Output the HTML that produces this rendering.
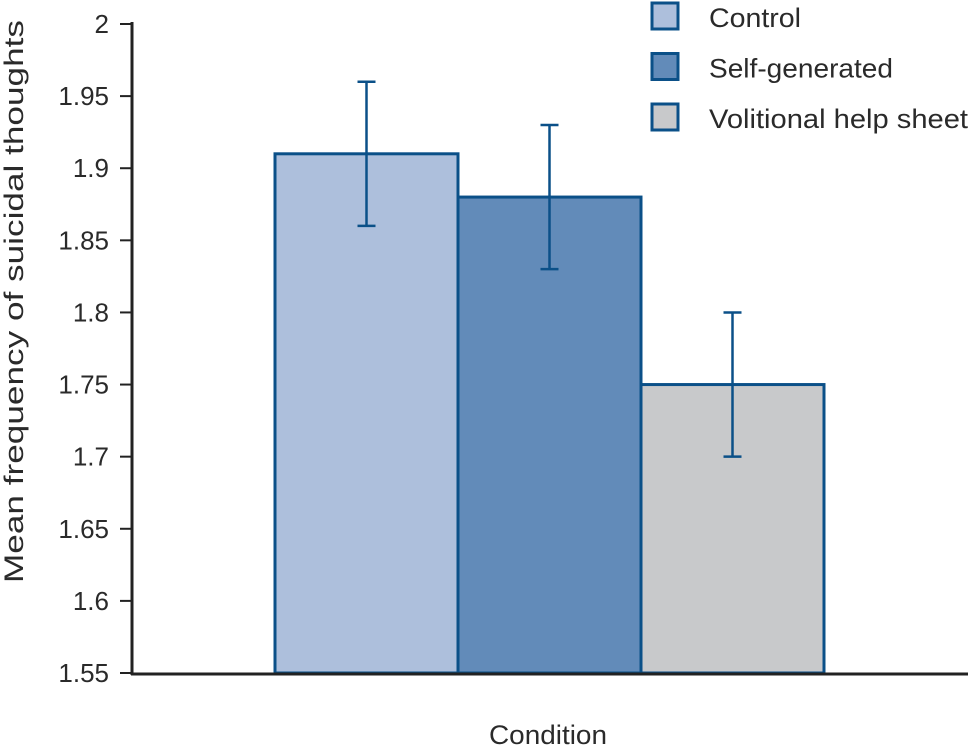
<!DOCTYPE html>
<html><head><meta charset="utf-8"><style>
body{margin:0;background:#fff;width:970px;height:745px;overflow:hidden}
svg text{font-family:"Liberation Sans",sans-serif;fill:#2a2a2a}
</style></head><body>
<svg id="chart" width="970" height="745" viewBox="0 0 970 745"></svg>
<script>
const categories = ["Control", "Self-generated", "Volitional help sheet"];
const means = [1.91, 1.88, 1.75];
const errLow = [1.86, 1.83, 1.70];
const errHigh = [1.96, 1.93, 1.80];
const tickValues = [1.55, 1.6, 1.65, 1.7, 1.75, 1.8, 1.85, 1.9, 1.95, 2];
const tickLabels = ["1.55", "1.6", "1.65", "1.7", "1.75", "1.8", "1.85", "1.9", "1.95", "2"];
const fills = ["#adbfdc", "#628bb9", "#c8c9cb"];
const legendWidths = [92, 184, 259];
const stroke = "#0b5088";
const NS = "http://www.w3.org/2000/svg";
const svg = document.getElementById("chart");
const y0 = 673, yTop = 24, vMin = 1.55, vMax = 2;
function y(v){ return y0 - (v - vMin) / (vMax - vMin) * (y0 - yTop); }
const barLeft = 275, barW = 183;
function x(i){ return barLeft + i * barW; }
function mk(tag, attrs, name, txt){
  const e = document.createElementNS(NS, tag);
  for (const k in attrs) e.setAttribute(k, attrs[k]);
  
  
  if (txt !== undefined) e.textContent = txt;
  svg.appendChild(e); return e;
}
categories.forEach((c, i) => {
  mk("rect", {x: x(i), y: y(means[i]), width: barW, height: y0 - y(means[i]), fill: fills[i], stroke: stroke, "stroke-width": 3}, "bar-" + i);
});
categories.forEach((c, i) => {
  const cx = x(i) + barW / 2;
  mk("line", {x1: cx, x2: cx, y1: y(errHigh[i]), y2: y(errLow[i]), stroke: stroke, "stroke-width": 2.5}, "error-bar-" + i);
  mk("line", {x1: cx - 9, x2: cx + 9, y1: y(errHigh[i]), y2: y(errHigh[i]), stroke: stroke, "stroke-width": 2.5}, "error-cap-high-" + i);
  mk("line", {x1: cx - 9, x2: cx + 9, y1: y(errLow[i]), y2: y(errLow[i]), stroke: stroke, "stroke-width": 2.5}, "error-cap-low-" + i);
});
mk("line", {x1: 132, x2: 132, y1: 22, y2: 675, stroke: "#222", "stroke-width": 3}, "y-axis");
mk("line", {x1: 131, x2: 968, y1: 674, y2: 674, stroke: "#222", "stroke-width": 3}, "x-axis");
tickValues.forEach((v, i) => {
  mk("line", {x1: 120, x2: 132, y1: y(v), y2: y(v), stroke: "#222", "stroke-width": 2}, "y-tick");
  mk("text", {x: 109, y: y(v) + 9, "text-anchor": "end", "font-size": 26}, "y-tick-label", tickLabels[i]);
});
mk("text", {x: 489, y: 744, "font-size": 27, textLength: 118, lengthAdjust: "spacingAndGlyphs"}, "x-axis-title", "Condition");
mk("text", {x: 0, y: 0, "font-size": 27, textLength: 563, lengthAdjust: "spacingAndGlyphs", transform: "translate(23,583) rotate(-90)"}, "y-axis-title", "Mean frequency of suicidal thoughts");
categories.forEach((c, i) => {
  const ly = 3 + i * 50.5;
  mk("rect", {x: 652, y: ly, width: 26, height: 26, fill: fills[i], stroke: stroke, "stroke-width": 3}, "legend-swatch-" + i);
  mk("text", {x: 709, y: ly + 24, "font-size": 27, textLength: legendWidths[i], lengthAdjust: "spacingAndGlyphs"}, "legend-label-" + i, c);
});
</script>
</body></html>
